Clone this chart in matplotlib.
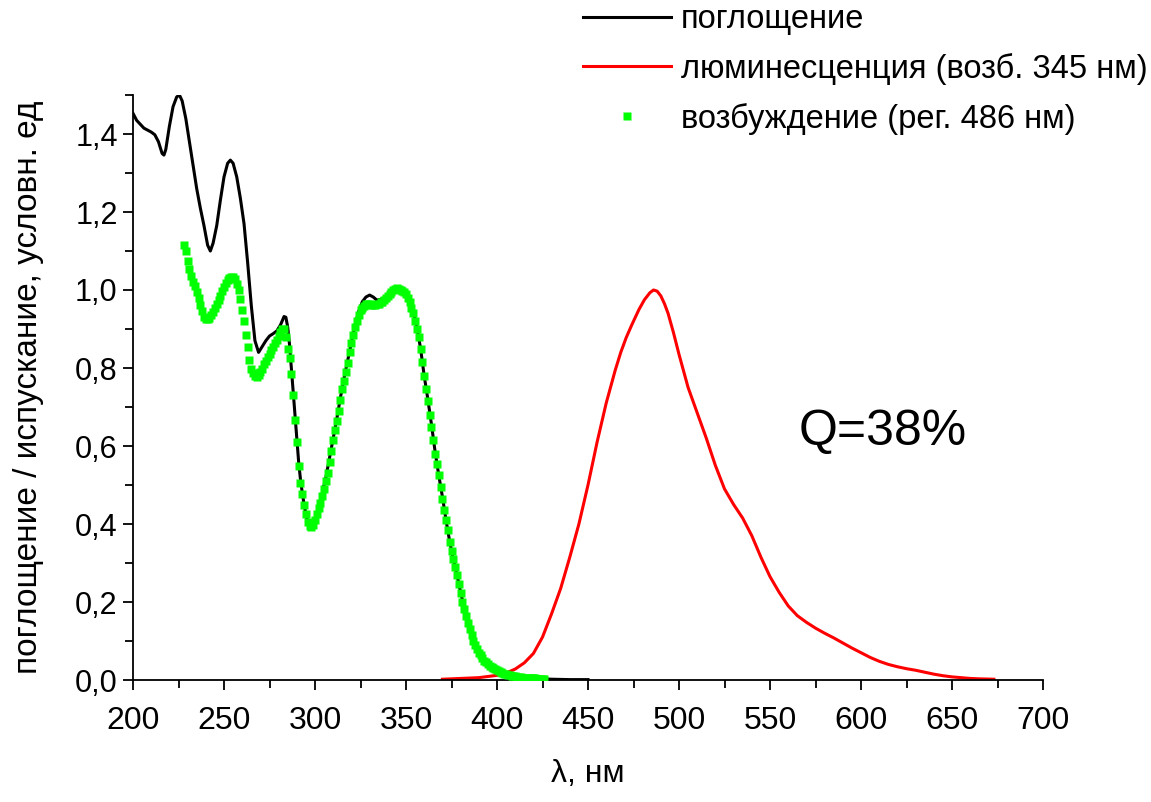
import numpy as np
import matplotlib

matplotlib.use("Agg")
import matplotlib.pyplot as plt
from matplotlib.ticker import MultipleLocator, FuncFormatter

plt.rcParams["font.family"] = ["Liberation Sans", "DejaVu Sans"]

# absorption (black line)
abs_nm = [200, 202, 204, 206, 208, 210, 212, 214, 216, 217, 218, 220, 222, 224, 225.5, 227, 229, 231, 233,
          235, 237, 239, 241, 242.5, 244, 246, 248, 250, 252, 253.5, 255, 257, 259, 261, 263, 265, 267,
          269, 271, 273, 275, 277, 279, 281, 283, 284, 285, 286, 287, 288, 289, 290, 291, 292, 293, 294,
          295, 296, 297, 298, 299, 300, 302, 304, 306, 308, 310, 312, 314, 316, 318, 320, 322, 324, 326,
          328, 330, 332, 334, 336, 338, 340, 342, 344, 346, 348, 350, 352, 354, 356, 358, 360, 362, 364,
          366, 368, 370, 372, 374, 376, 378, 380, 382, 384, 386, 388, 390, 392, 394, 396, 398, 400, 405,
          410, 415, 420, 425, 430, 440, 450]
abs_val = [1.453, 1.435, 1.425, 1.415, 1.41, 1.405, 1.398, 1.38, 1.35, 1.346, 1.36, 1.42, 1.47, 1.495, 1.5,
           1.485, 1.44, 1.38, 1.32, 1.26, 1.21, 1.165, 1.115, 1.10, 1.12, 1.165, 1.23, 1.29, 1.325, 1.333,
           1.325, 1.29, 1.235, 1.17, 1.07, 0.96, 0.87, 0.84, 0.855, 0.87, 0.882, 0.888, 0.895, 0.91, 0.932,
           0.93, 0.905, 0.86, 0.80, 0.74, 0.68, 0.62, 0.56, 0.515, 0.48, 0.45, 0.425, 0.405, 0.393, 0.392,
           0.398, 0.41, 0.44, 0.48, 0.52, 0.57, 0.62, 0.67, 0.725, 0.775, 0.82, 0.865, 0.91, 0.945, 0.97,
           0.982, 0.987, 0.982, 0.974, 0.976, 0.98, 0.99, 0.998, 1.003, 1.004, 1.0, 0.992, 0.97, 0.945,
           0.905, 0.85, 0.78, 0.72, 0.655, 0.585, 0.525, 0.47, 0.41, 0.355, 0.31, 0.27, 0.225, 0.185, 0.145,
           0.11, 0.09, 0.07, 0.055, 0.045, 0.037, 0.031, 0.025, 0.016, 0.010, 0.007, 0.005, 0.003, 0.002,
           0.001, 0.001]

# luminescence, excitation at 345 nm (red line)
lum_nm = [370, 380, 390, 395, 400, 405, 410, 415, 420, 425, 430, 435, 440, 445, 450, 455, 460, 465, 468,
          471, 474, 478, 481, 484, 486, 488, 490, 492, 494, 497, 500, 505, 510, 515, 520, 525, 530, 535,
          540, 545, 550, 555, 560, 565, 570, 575, 580, 585, 590, 595, 600, 605, 610, 615, 620, 625, 630,
          635, 640, 645, 650, 655, 660, 665, 673]
lum_val = [0.002, 0.004, 0.006, 0.009, 0.012, 0.018, 0.028, 0.044, 0.068, 0.11, 0.17, 0.235, 0.315, 0.40,
           0.50, 0.61, 0.71, 0.795, 0.84, 0.878, 0.91, 0.95, 0.975, 0.993, 1.0, 0.997, 0.985, 0.965,
           0.94, 0.89, 0.835, 0.75, 0.685, 0.62, 0.55, 0.49, 0.45, 0.415, 0.37, 0.315, 0.265, 0.225, 0.19,
           0.165, 0.148, 0.133, 0.12, 0.108, 0.095, 0.082, 0.07, 0.058, 0.048, 0.04, 0.034, 0.029, 0.025,
           0.02, 0.015, 0.011, 0.008, 0.006, 0.004, 0.003, 0.002]

# excitation spectrum, registration at 486 nm (green squares, 1 nm step from 228 nm)
exc_start = 228
exc_val = [1.115, 1.10, 1.075, 1.055, 1.036, 1.02, 1.009, 0.995, 0.98, 0.962, 0.945, 0.932, 0.925, 0.925,
           0.927, 0.935, 0.943, 0.953, 0.965, 0.975, 0.985, 0.997, 1.008, 1.017, 1.025, 1.03, 1.034, 1.034,
           1.027, 1.015, 1.0, 0.978, 0.95, 0.92, 0.885, 0.855, 0.82, 0.798, 0.786, 0.78, 0.778, 0.782,
           0.79, 0.798, 0.81, 0.818, 0.828, 0.837, 0.846, 0.855, 0.863, 0.872, 0.882, 0.892, 0.9, 0.9,
           0.88, 0.85, 0.826, 0.785, 0.73, 0.667, 0.61, 0.55, 0.505, 0.478, 0.45, 0.425, 0.405, 0.395,
           0.392, 0.398, 0.41, 0.425, 0.44, 0.455, 0.472, 0.49, 0.51, 0.532, 0.56, 0.588, 0.615, 0.64,
           0.665, 0.69, 0.718, 0.745, 0.767, 0.79, 0.813, 0.84, 0.863, 0.885, 0.905, 0.92, 0.935, 0.948,
           0.955, 0.96, 0.963, 0.964, 0.963, 0.962, 0.962, 0.962, 0.963, 0.965, 0.968, 0.97, 0.975, 0.98,
           0.985, 0.99, 0.995, 1.0, 1.002, 1.004, 1.003, 1.0, 0.998, 0.995, 0.99, 0.98, 0.968, 0.955,
           0.94, 0.92, 0.9, 0.88, 0.85, 0.815, 0.78, 0.745, 0.715, 0.68, 0.65, 0.615, 0.58, 0.555, 0.525,
           0.495, 0.465, 0.435, 0.41, 0.385, 0.355, 0.33, 0.31, 0.29, 0.27, 0.245, 0.222, 0.2, 0.183,
           0.165, 0.145, 0.13, 0.115, 0.1, 0.09, 0.08, 0.07, 0.063, 0.056, 0.05, 0.045, 0.04, 0.037,
           0.034, 0.031, 0.028, 0.025, 0.022, 0.02, 0.018, 0.016, 0.015, 0.013, 0.012, 0.011, 0.01,
           0.009, 0.008, 0.008, 0.007, 0.006, 0.006, 0.005, 0.005, 0.005, 0.004, 0.004, 0.004, 0.003,
           0.003, 0.003, 0.002, 0.002]
exc_nm = np.arange(exc_start, exc_start + len(exc_val))

labels = ["поглощение", "люминесценция (возб. 345 нм)", "возбуждение (рег. 486 нм)"]

fig = plt.figure(figsize=(11.51, 8.02), dpi=100)
ax = fig.add_axes([133 / 1151, 122 / 802, 910 / 1151, 585 / 802])

ax.plot(abs_nm, abs_val, color="black", lw=2.2, label=labels[0], zorder=2)
ax.plot(lum_nm, lum_val, color="#ff0000", lw=2.2, label=labels[1], zorder=2)
ax.plot(exc_nm, exc_val, ls="none", marker="s", ms=5.8, mec="none", color="#00ff00",
        label=labels[2], zorder=3)

ax.set_xlim(200, 700)
ax.set_ylim(0, 1.5)
ax.spines["top"].set_visible(False)
ax.spines["right"].set_visible(False)
for s in ("left", "bottom"):
    ax.spines[s].set_linewidth(1.3)

ax.xaxis.set_major_locator(MultipleLocator(50))
ax.xaxis.set_minor_locator(MultipleLocator(25))
ax.yaxis.set_major_locator(MultipleLocator(0.2))
ax.yaxis.set_minor_locator(MultipleLocator(0.1))
ax.yaxis.set_major_formatter(FuncFormatter(lambda v, p: f"{v:.1f}".replace(".", ",")))
ax.tick_params(which="both", direction="out", width=1.3)
ax.tick_params(which="major", length=7)
ax.tick_params(which="minor", length=6)
ax.tick_params(axis="y", labelsize=22, pad=4)
ax.tick_params(axis="x", labelsize=23, pad=12)

ax.set_xlabel("λ, нм", fontsize=23, labelpad=16)
ax.set_ylabel("поглощение / испускание, условн. ед", fontsize=24, labelpad=22)

ax.text(566, 0.635, "Q=38%", fontsize=36, ha="left", va="center")

fig.legend(loc="upper left", bbox_to_anchor=(583 / 1151, 1 - 4 / 802), frameon=False,
           prop={"size": 23.5}, handlelength=2.7, handletextpad=0.3,
           labelspacing=0.55, borderaxespad=0, borderpad=0.0)

fig.savefig("out.png", dpi=100)
